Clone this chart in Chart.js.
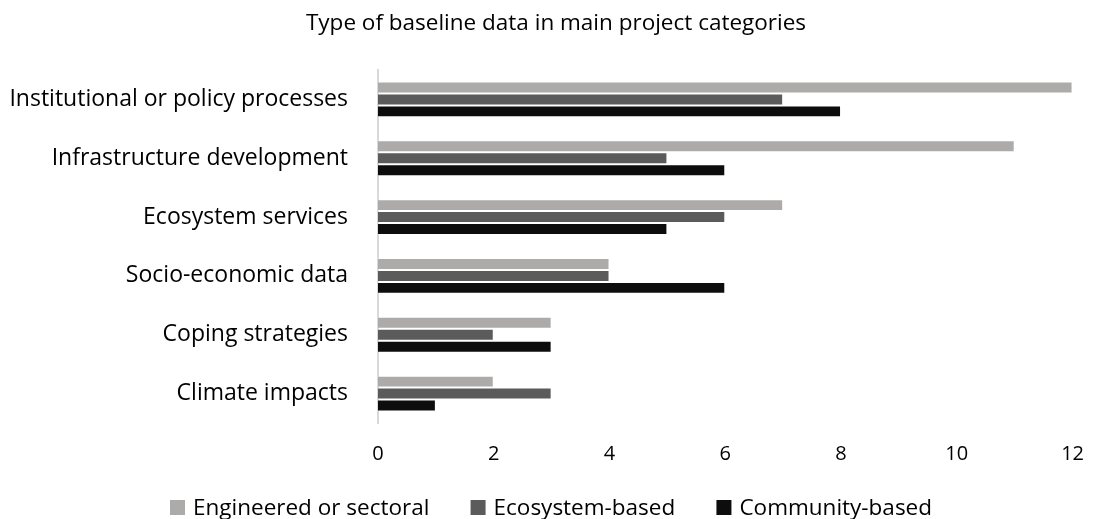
<!DOCTYPE html>
<html>
<head>
<meta charset="utf-8">
<script src="https://cdn.jsdelivr.net/npm/chart.js@4.4.1/dist/chart.umd.min.js"></script>
<style>
  html, body { margin: 0; padding: 0; background: #ffffff; }
  #wrap { width: 1103px; height: 519px; position: relative; }
</style>
</head>
<body>
<div id="wrap"><canvas id="chart"></canvas></div>
<script>
const categories = [
  "Institutional or policy processes",
  "Infrastructure development",
  "Ecosystem services",
  "Socio-economic data",
  "Coping strategies",
  "Climate impacts"
];
const engineered = [12, 11, 7, 4, 3, 2];
const ecosystem = [7, 5, 6, 4, 2, 3];
const community = [8, 6, 5, 6, 3, 1];
const seriesNames = ["Engineered or sectoral", "Ecosystem-based", "Community-based"];
const seriesColors = ["#ADAAAA", "#5B5B5B", "#0D0D0D"];
const xTicks = [0, 2, 4, 6, 8, 10, 12];
const chartTitle = "Type of baseline data in main project categories";

const FONT = "'Open Sans', Lato, sans-serif";

// Title centred over the whole figure (axis labels plus plot)
const topTitle = {
  id: "topTitle",
  afterDraw(chart) {
    const ctx = chart.ctx;
    ctx.save();
    ctx.font = "22.5px " + FONT;
    ctx.fillStyle = "#000000";
    ctx.textAlign = "center";
    ctx.textBaseline = "middle";
    ctx.fillText(chartTitle, 556, 24);
    ctx.restore();
  }
};

// Legend drawn in one row under the axis, spread between two fixed edges
const bottomLegend = {
  id: "bottomLegend",
  afterDraw(chart) {
    const ctx = chart.ctx;
    ctx.save();
    ctx.font = "22.5px " + FONT;
    ctx.textBaseline = "middle";
    const box = 15, gapText = 8;
    const left = 170, right = 932, y = 507.5;
    const widths = seriesNames.map(n => box + gapText + ctx.measureText(n).width);
    const gapItem = (right - left - widths.reduce((a, b) => a + b, 0)) / (widths.length - 1);
    let x = left;
    seriesNames.forEach((name, i) => {
      ctx.fillStyle = seriesColors[i];
      ctx.fillRect(x, y - box / 2, box, box);
      ctx.fillStyle = "#000000";
      ctx.fillText(name, x + box + gapText, y + 1);
      x += widths[i] + gapItem;
    });
    ctx.restore();
  }
};

new Chart(document.getElementById("chart"), {
  type: "bar",
  data: {
    labels: categories,
    datasets: [
      { label: seriesNames[0], data: engineered, backgroundColor: seriesColors[0] },
      { label: seriesNames[1], data: ecosystem, backgroundColor: seriesColors[1] },
      { label: seriesNames[2], data: community, backgroundColor: seriesColors[2] }
    ].map(d => Object.assign(d, {
      borderWidth: 1,
      borderColor: "rgba(255,255,255,0.35)",
      categoryPercentage: 0.61,
      barPercentage: 1.0
    }))
  },
  options: {
    indexAxis: "y",
    responsive: true,
    maintainAspectRatio: false,
    animation: false,
    layout: { padding: { top: 70, right: 18, bottom: 51, left: 0 } },
    plugins: {
      legend: { display: false },
      tooltip: { enabled: false },
      title: { display: false }
    },
    scales: {
      x: {
        min: 0,
        max: 12,
        afterBuildTicks(scale) { scale.ticks = xTicks.map(v => ({ value: v })); },
        afterFit(scale) { scale.height = 45; },
        grid: { display: false, drawTicks: false },
        border: { display: false },
        ticks: { color: "#000000", font: { family: FONT, size: 20, lineHeight: 1.2 }, padding: 19 }
      },
      y: {
        grid: { display: false, drawTicks: false },
        border: { display: true, color: "#D9D9D9", width: 2 },
        afterFit(scale) { scale.width = 378; },
        ticks: { color: "#000000", font: { family: FONT, size: 23 }, padding: 30 }
      }
    }
  },
  plugins: [topTitle, bottomLegend]
});
</script>
</body>
</html>
